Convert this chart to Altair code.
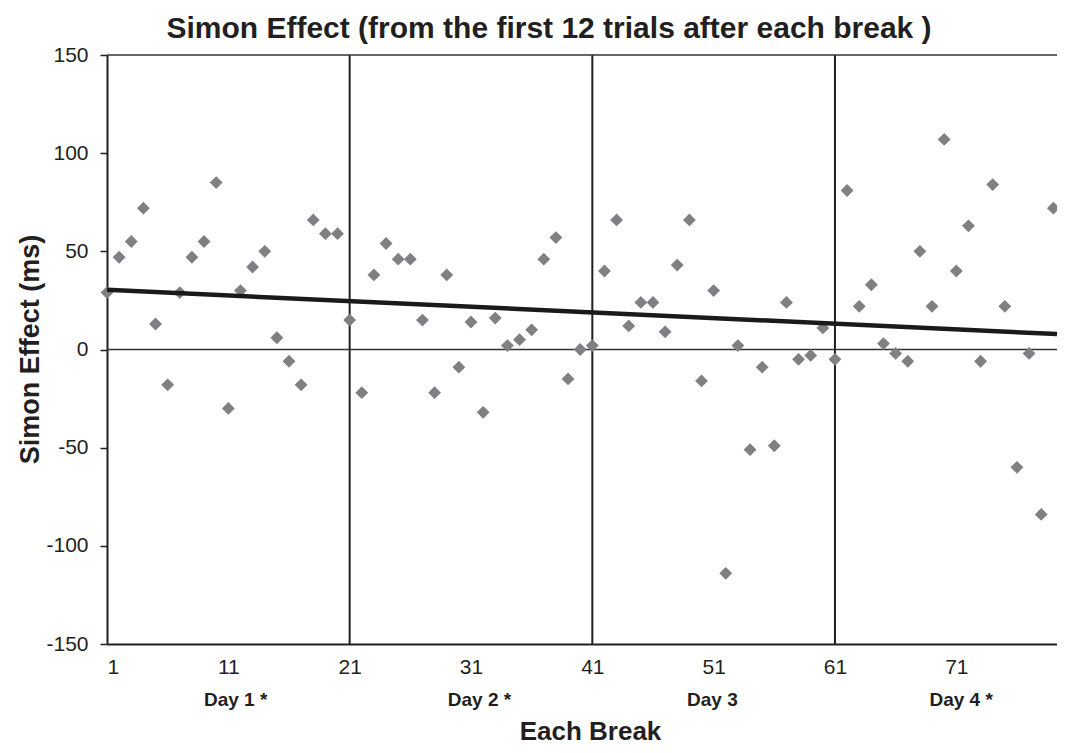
import altair as alt
import pandas as pd

breaks = list(range(1, 80))
effects = [29, 47, 55, 72, 13, -18, 29, 47, 55, 85,
           -30, 30, 42, 50, 6, -6, -18, 66, 59, 59,
           15, -22, 38, 54, 46, 46, 15, -22, 38, -9,
           14, -32, 16, 2, 5, 10, 46, 57, -15, 0,
           2, 40, 66, 12, 24, 24, 9, 43, 66, -16,
           30, -114, 2, -51, -9, -49, 24, -5, -3, 11,
           -5, 81, 22, 33, 3, -2, -6, 50, 22, 107,
           40, 63, -6, 84, 22, -60, -2, -84, 72]
day_bounds = [21, 41, 61]
day_labels = ["Day 1 *", "Day 2 *", "Day 3", "Day 4 *"]
day_centers = [11.6, 31.7, 50.9, 71.4]
x_ticks = [1, 11, 21, 31, 41, 51, 61, 71]
y_ticks = [-150, -100, -50, 0, 50, 100, 150]

df = pd.DataFrame({"brk": breaks, "eff": effects})
bounds = pd.DataFrame({"b": day_bounds})
days = pd.DataFrame({"c": day_centers, "lab": day_labels})
hlines = pd.DataFrame({"h": [0, 150]})

FONT = "Liberation Sans"
INK = "#231f20"
W, H = 950, 589
xs = alt.Scale(domain=[1, 79.3], nice=False, zero=False)
ys = alt.Scale(domain=[-150, 150], nice=False)

points = alt.Chart(df).mark_point(shape="diamond", filled=True, size=165,
                                  color="#808084", opacity=1).encode(
    x=alt.X("brk:Q", scale=xs,
            axis=alt.Axis(values=x_ticks, title="Each Break", ticks=False, grid=False,
                          domainColor=INK, domainWidth=2, labelFontSize=21, labelFont=FONT,
                          labelColor=INK, labelPadding=12, labelExpr="'' + datum.value",
                          titleFont=FONT, titleFontSize=26,
                          titleFontWeight="bold", titleColor=INK,
                          titleX=483, titleY=95, titleBaseline="alphabetic", titleAlign="center")),
    y=alt.Y("eff:Q", scale=ys,
            axis=alt.Axis(values=y_ticks, title="Simon Effect (ms)", grid=False,
                          tickSize=7, tickWidth=1.5, tickColor=INK,
                          domainColor=INK, domainWidth=2, labelFontSize=21, labelFont=FONT,
                          labelColor=INK, labelPadding=12, labelExpr="'' + datum.value",
                          titleFont=FONT, titleFontSize=27,
                          titleFontWeight="bold", titleColor=INK,
                          titleX=-77, titleY=294, titleBaseline="middle", titleAlign="center")),
)

vrules = alt.Chart(bounds).mark_rule(color=INK, strokeWidth=2).encode(
    x=alt.X("b:Q", scale=xs))
hrules = alt.Chart(hlines).mark_rule(color="#333333", strokeWidth=1.6).encode(
    y=alt.Y("h:Q", scale=ys))

trend = alt.Chart(df).transform_regression("brk", "eff", extent=[1, 79.3]).mark_line(
    color="#1a1a1a", strokeWidth=4.5, clip=True).encode(
    x=alt.X("brk:Q", scale=xs), y=alt.Y("eff:Q", scale=ys))

daytext = alt.Chart(days).mark_text(font=FONT, fontSize=19, fontWeight="bold",
                                    color=INK, baseline="middle").encode(
    x=alt.X("c:Q", scale=xs), y=alt.value(645), text="lab:N")

chart = alt.layer(vrules, hrules, points, trend, daytext).properties(
    width=W, height=H,
    autosize=alt.AutoSizeParams(type="none"),
    padding={"left": 99, "top": 47, "right": 0, "bottom": 101},
    title=alt.TitleParams("Simon Effect (from the first 12 trials after each break )",
                          font=FONT, fontSize=30, fontWeight="bold", color=INK,
                          anchor="middle", dx=-33, dy=3, offset=3),
).configure_view(stroke=None)

chart.save("out.html", embed_options={"renderer": "svg", "actions": False})
